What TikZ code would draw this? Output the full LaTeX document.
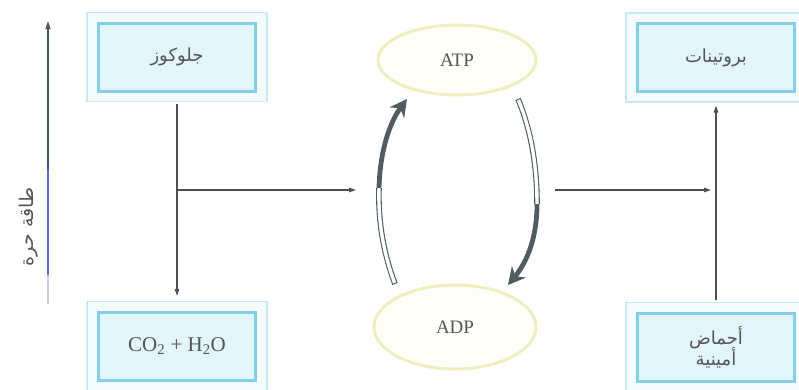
\documentclass[tikz,border=0pt]{standalone}
\usepackage{fontspec}
\setmainfont{Liberation Serif}
\newfontfamily\arabicfont[Script=Arabic]{DejaVu Sans}
\TeXXeTstate=1
\usetikzlibrary{arrows.meta,shapes.geometric,fit,backgrounds}
\definecolor{boxfill}{HTML}{E2F5FA}
\definecolor{boxline}{HTML}{86CDE6}
\definecolor{outline}{HTML}{C8E8F2}
\definecolor{outfill}{HTML}{F4FBFD}
\definecolor{ellline}{HTML}{EFEEBE}
\definecolor{ellfill}{HTML}{FEFEF8}
\definecolor{arrowc}{HTML}{4F5D60}
\definecolor{connc}{HTML}{4A5055}
\definecolor{txtc}{HTML}{555555}
\definecolor{axdark}{HTML}{4A5670}
\definecolor{axblue}{HTML}{5A6CDC}
\definecolor{axfade}{HTML}{C8CDE8}
\begin{document}
\begin{tikzpicture}[x=1pt,y=-1pt,
  inbox/.style={draw=boxline, line width=3pt, fill=boxfill, minimum width=157pt, minimum height=68pt, inner sep=0pt, text=txtc},
  outbox/.style={draw=outline, line width=1.2pt, fill=outfill, inner xsep=10pt, inner ysep=9pt},
  cell/.style={ellipse, draw=ellline, line width=3pt, fill=ellfill, text=txtc, inner sep=0pt},
  conn/.style={draw=connc, line width=1.2pt, -{Triangle[length=7pt,width=4.5pt]}},
  tubeout/.style={draw=arrowc, line width=5.6pt},
  tubein/.style={draw=white, line width=3.4pt},
  solid/.style={draw=arrowc, line width=4.8pt, -{Stealth[length=17pt,width=18pt]}},
  ar/.style={font=\arabicfont\fontsize{18}{24}\selectfont},
  lt/.style={font=\fontsize{21}{24}\selectfont}]
\useasboundingbox (0,0) rectangle (799,389);
% boxes
\node[inbox, ar] (glucose) at (177,57) {\beginR جلوكوز\endR};
\node[inbox, lt] (co2) at (177,346) {CO\textsubscript{2} + H\textsubscript{2}O};
\node[inbox, ar] (prot) at (716,57.5) {\beginR بروتينات\endR};
\node[inbox, ar, align=center] (amino) at (716,347) {\beginR أحماض\endR\\[-3pt]\beginR أمينية\endR};
\begin{scope}[on background layer]
\node[outbox, fit=(glucose)] (gluO) {};
\node[outbox, fit=(co2)] (co2O) {};
\node[outbox, fit=(prot)] (protO) {};
\node[outbox, fit=(amino)] (amiO) {};
\end{scope}
% ellipses
\node[cell, minimum width=158pt, minimum height=70pt] (atp) at (457,60) {\fontsize{19}{22}\selectfont ATP};
\node[cell, minimum width=162pt, minimum height=84pt] (adp) at (455,327) {\fontsize{19}{22}\selectfont ADP};
% axis
\coordinate (axB) at (48,304);
\coordinate (axF) at (48,275);
\coordinate (axM) at (48,170);
\coordinate (axT) at (48,21);
\draw[draw=axfade, line width=1.5pt] (axB) -- (axF);
\draw[draw=axblue, line width=1.5pt] (axF) -- (axM);
\draw[draw=axdark, line width=1.5pt, -{Triangle[length=8pt,width=5pt]}] (axM) -- (axT);
\node[text=txtc, rotate=90, font=\arabicfont\fontsize{19}{22}\selectfont] (axlab) at (29,227) {\beginR طاقة حرة\endR};
% connectors left
\coordinate (br) at (177,190);
\coordinate (cycL) at (356,190);
\draw[conn, shorten >=5pt, shorten <=2pt] (gluO.south) -- (co2O.north);
\draw[conn] (br) -- (cycL);
% connectors right
\coordinate (cycR) at (555,190);
\coordinate (join) at (711,190);
\draw[conn] (cycR) -- (join);
\draw[conn, shorten >=3pt, shorten <=2pt] (amiO.north) -- (protO.south);
% cycle arrows
\coordinate (l0) at (395,284);
\coordinate (l1) at (379,188);
\coordinate (l2) at (407,99);
\draw[tubeout] (l0) .. controls (383,252) and (378,220) .. (l1);
\draw[tubein, shorten <=1.1pt] (l0) .. controls (383,252) and (378,220) .. (l1);
\draw[solid] (l1) .. controls (380,150) and (390,122) .. (l2);
\coordinate (r0) at (518,99);
\coordinate (r1) at (537,204);
\coordinate (r2) at (508,285);
\draw[tubeout] (r0) .. controls (530,128) and (537,162) .. (r1);
\draw[tubein, shorten <=1.1pt] (r0) .. controls (530,128) and (537,162) .. (r1);
\draw[solid] (r1) .. controls (537,238) and (527,262) .. (r2);
\end{tikzpicture}
\end{document}
